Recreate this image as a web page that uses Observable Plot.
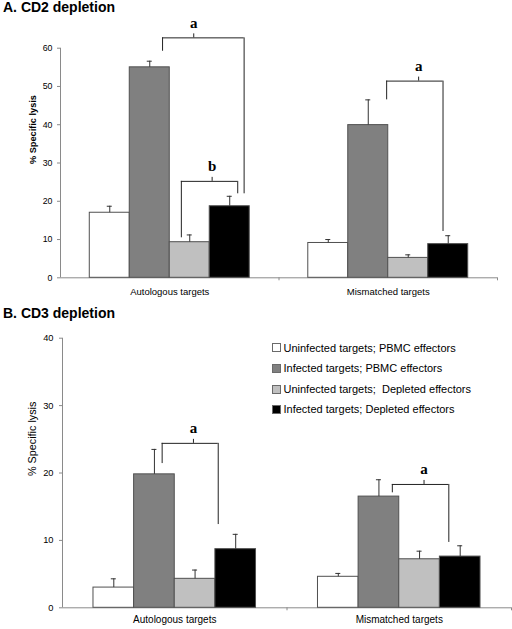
<!DOCTYPE html>
<html><head><meta charset="utf-8">
<script src="https://cdn.jsdelivr.net/npm/d3@7"></script>
<script src="https://cdn.jsdelivr.net/npm/@observablehq/plot@0.6"></script>
<style>
body{margin:0;background:#fff;}
#wrap{position:relative;width:512px;height:629px;overflow:hidden;font-family:"Liberation Sans",Arial,sans-serif;}
.panel{position:absolute;left:0;}
.title{position:absolute;left:3px;font-weight:bold;font-size:14px;line-height:14px;white-space:nowrap;}
.leg{position:absolute;left:272px;height:14px;line-height:14px;font-size:11px;display:flex;align-items:center;white-space:pre;}
.sw{width:7px;height:7px;border:1px solid #6a6a6a;margin-right:2.5px;flex:none;}
</style></head>
<body>
<div id="wrap">
  <div class="panel" id="pa" style="top:0"></div>
  <div class="panel" id="pb" style="top:300px"></div>
  <div class="title" id="ta" style="top:0"></div>
  <div class="title" id="tb" style="top:306px"></div>
  <div id="legend"></div>
</div>
<script>
const titles = ["A. CD2 depletion", "B. CD3 depletion"];
const yLabel = "% Specific lysis";
const categories = ["Autologous targets", "Mismatched targets"];
const series = [
  "Uninfected targets; PBMC effectors",
  "Infected targets; PBMC effectors",
  "Uninfected targets;  Depleted effectors",
  "Infected targets; Depleted effectors"
];
const colors = ["#ffffff", "#808080", "#c0c0c0", "#000000"];

// CD2 depletion: bar heights and upper error-bar ends, per category
const cd2Values = [[17.0, 55.0, 9.3, 18.7], [9.1, 39.9, 5.2, 8.8]];
const cd2ErrTop = [[18.7, 56.6, 11.2, 21.3], [10.0, 46.5, 6.0, 11.0]];
const cd2Ticks = [0, 10, 20, 30, 40, 50, 60];
// significance brackets: category, slot span (0..3 bar slots), level, end levels, label
const cd2Brackets = [
  {cat: 0, from: 1.32, to: 3.36, mid: 2.1, y: 62.7, yFrom: 59.2, yTo: 21.95, label: "a"},
  {cat: 0, from: 1.79, to: 3.2, mid: 2.56, y: 25.2, yFrom: 10.45, yTo: 21.95, label: "b"},
  {cat: 1, from: 1.46, to: 2.87, mid: 2.26, y: 51.4, yFrom: 46.5, yTo: 12.1, label: "a"}
];

// CD3 depletion
const cd3Values = [[3.0, 19.8, 4.3, 8.7], [4.6, 16.5, 7.2, 7.6]];
const cd3ErrTop = [[4.3, 23.5, 5.6, 10.9], [5.1, 19.0, 8.4, 9.2]];
const cd3Ticks = [0, 10, 20, 30, 40];
const cd3Brackets = [
  {cat: 0, from: 1.19, to: 2.57, mid: 1.96, y: 24.4, yFrom: 21.4, yTo: 12.35, label: "a"},
  {cat: 1, from: 1.33, to: 2.72, mid: 2.11, y: 18.3, yFrom: 17.06, yTo: 9.7, label: "a"}
];

function panel(o) {
  const w = o.w;
  const slot = (g, s) => g + 0.5 + (s - 1.5) * w;
  const rows = [];
  categories.forEach((c, g) => series.forEach((s, i) => rows.push({
    g, i, v: o.values[g][i], e: o.errs[g][i],
    x1: slot(g, i) - w / 2, x2: slot(g, i) + w / 2, xc: slot(g, i), fill: colors[i]
  })));
  const pxPerX = (512 - o.ml - o.mr) / 2;
  const cap = 2.5 / pxPerX;
  const unitPerPx = o.yMax / (o.height - o.mt - o.mb);
  const br = o.brackets.map(b => ({...b, x1: slot(b.cat, b.from), x2: slot(b.cat, b.to), xm: slot(b.cat, b.mid)}));
  return Plot.plot({
    width: 512, height: o.height,
    marginTop: o.mt, marginBottom: o.mb, marginLeft: o.ml, marginRight: o.mr,
    style: {fontFamily: "'Liberation Sans', Arial, sans-serif", background: "white", color: "black"},
    x: {domain: [0, 2], axis: null},
    y: {domain: [0, o.yMax], axis: null},
    color: {type: "identity"},
    marks: [
      Plot.axisY({ticks: o.ticks, tickSize: 3, tickPadding: o.tickPad, fontSize: o.tickFont, label: null, stroke: "#8a8a8a", fill: "#000"}),
      Plot.axisX({ticks: [1, 2], tickSize: 3, tickFormat: () => "", label: null, stroke: "#8a8a8a"}),
      Plot.ruleX([0], {y1: 0, y2: o.yMax, stroke: "#8a8a8a"}),
      Plot.ruleY([0], {x1: 0, x2: 2, stroke: "#8a8a8a"}),
      Plot.rectY(rows, {x1: "x1", x2: "x2", y1: 0, y2: "v", fill: "fill", stroke: "#505050", strokeWidth: 1}),
      Plot.ruleX(rows, {x: "xc", y1: "v", y2: "e", stroke: "#333"}),
      Plot.ruleY(rows, {y: "e", x1: d => d.xc - cap, x2: d => d.xc + cap, stroke: "#333"}),
      Plot.ruleY(br, {y: "y", x1: "x1", x2: "x2", stroke: "#222"}),
      Plot.ruleX(br, {x: "x1", y1: "y", y2: "yFrom", stroke: "#222"}),
      Plot.ruleX(br, {x: "x2", y1: "y", y2: "yTo", stroke: "#222"}),
      Plot.ruleX(br, {x: "xm", y1: "y", y2: d => d.y + 4 * unitPerPx, stroke: "#222"}),
      Plot.text(br, {x: "xm", y: "y", text: "label", dy: -15, fontFamily: "'Liberation Serif', 'Times New Roman', serif", fontWeight: "bold", fontSize: 15}),
      Plot.text(categories, {x: (d, i) => i + 0.5, y: 0, text: d => d, dy: o.catDy, fontSize: o.catFont}),
      Plot.text([yLabel], {frameAnchor: "left", rotate: -90, dx: o.labelDx, dy: o.labelDy, fontSize: o.labelFont, fontWeight: o.labelWeight})
    ]
  });
}

document.getElementById("pa").appendChild(panel({
  values: cd2Values, errs: cd2ErrTop, ticks: cd2Ticks, brackets: cd2Brackets,
  height: 300, mt: 47.7, mb: 22.7, ml: 60, mr: 15, yMax: 60, w: 0.183,
  tickFont: 8.8, tickPad: 5, catFont: 9.5, catDy: 14.4,
  labelFont: 9.2, labelWeight: "bold", labelDx: -27.3, labelDy: 1
}));
document.getElementById("pb").appendChild(panel({
  values: cd3Values, errs: cd3ErrTop, ticks: cd3Ticks, brackets: cd3Brackets,
  height: 329, mt: 37.7, mb: 21.7, ml: 62, mr: 1, yMax: 40, w: 0.181,
  tickFont: 9.3, tickPad: 6, catFont: 10, catDy: 11.5,
  labelFont: 10.8, labelWeight: "normal", labelDx: -29.7, labelDy: 3
}));
document.getElementById("ta").textContent = titles[0];
document.getElementById("tb").textContent = titles[1];

const legendTops = [340.7, 361.3, 382.3, 402.3];
const legend = document.getElementById("legend");
series.forEach((s, i) => {
  const row = document.createElement("div");
  row.className = "leg";
  row.style.top = legendTops[i] + "px";
  const sw = document.createElement("span");
  sw.className = "sw";
  sw.style.background = colors[i];
  const t = document.createElement("span");
  t.textContent = s;
  row.appendChild(sw); row.appendChild(t);
  legend.appendChild(row);
});
</script>
</body></html>
